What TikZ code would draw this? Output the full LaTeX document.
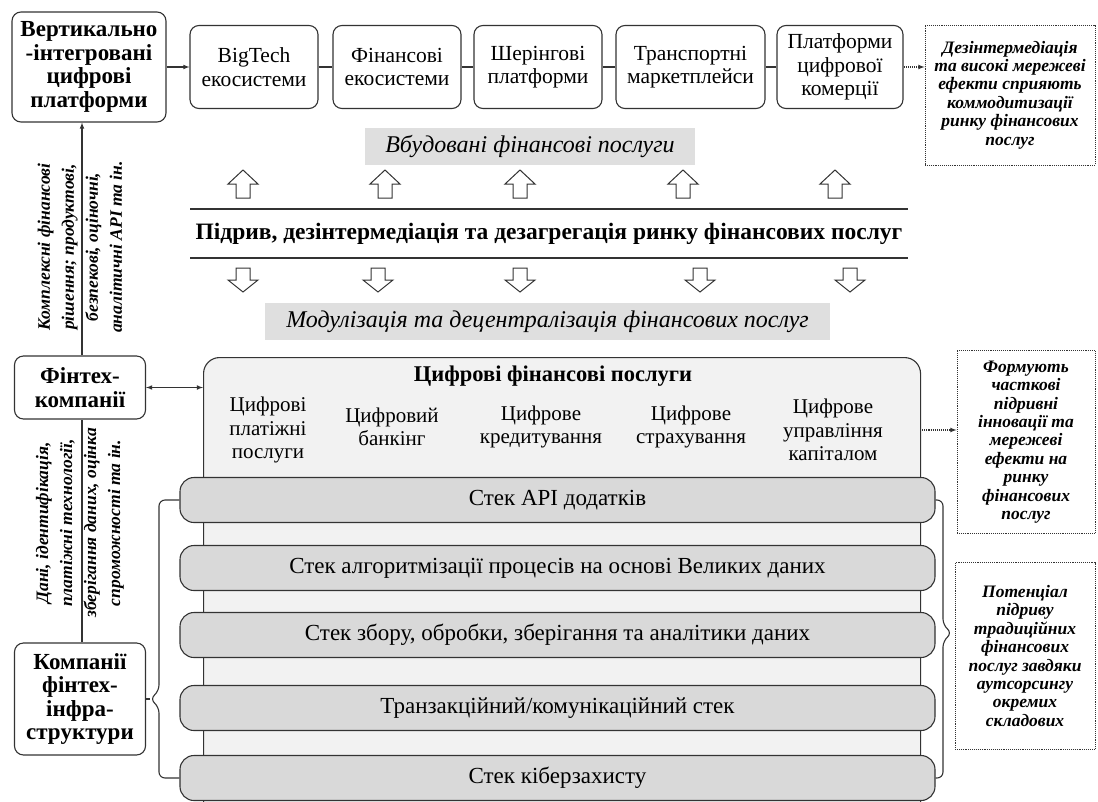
\documentclass[tikz,border=0pt]{standalone}
\usepackage{fontspec}
\setmainfont{Liberation Serif}
\usetikzlibrary{positioning}
\tikzset{
  pbox/.style={draw=black!80, line width=1.1pt, rounded corners=9pt, fill=white, align=center, inner sep=0pt, font=\fontsize{21.5}{23.5}\selectfont},
  hbox/.style={pbox, font=\bfseries\fontsize{23}{23.5}\selectfont},
  note/.style={draw=black!80, densely dotted, line width=0.9pt, align=center, inner sep=0pt, font=\bfseries\itshape\fontsize{17.5}{18.4}\selectfont},
  band/.style={fill=gray!25, inner sep=0pt, font=\itshape\fontsize{24}{26}\selectfont},
  stek/.style={draw=black!80, line width=1.1pt, rounded corners=14pt, fill=gray!30, minimum width=755pt, minimum height=45pt, font=\fontsize{23}{25}\selectfont},
  service/.style={align=center, font=\fontsize{21}{23.5}\selectfont},
  vlabel/.style={rotate=90, align=center, font=\bfseries\itshape\fontsize{17.5}{24}\selectfont},
  blockup/.style={draw=black!80, line width=1pt, fill=white},
  link/.style={draw=black!80, line width=1.1pt},
}
\begin{document}
\begin{tikzpicture}[x=1pt,y=-1pt,>=latex]
\useasboundingbox (0,0) rectangle (1098,801);
%platforms
\node[hbox, minimum width=154pt, minimum height=110pt] (vert) at (89,67) {Вертикально\\-інтегровані\\цифрові\\платформи};
\node[pbox, minimum width=128pt, minimum height=83pt] (bigtech) at (254,67) {BigTech\\екосистеми};
\node[pbox, minimum width=128pt, minimum height=83pt] (fineco) at (397,67) {Фінансові\\екосистеми};
\node[pbox, minimum width=128pt, minimum height=83pt] (sharing) at (538,67) {Шерінгові\\платформи};
\node[pbox, minimum width=149pt, minimum height=83pt] (transp) at (690.5,67) {Транспортні\\маркетплейси};
\node[pbox, minimum width=126pt, minimum height=83pt] (ecom) at (840,67) {Платформи\\цифрової\\комерції};
\node[note, minimum width=170pt, minimum height=140pt] (note1) at (1010,95) {Дезінтермедіація\\та високі мережеві\\ефекти сприяють\\коммодитизації\\ринку фінансових\\послуг};
\draw[link,->] (vert.east) -- (bigtech.west);
\draw[link] (bigtech.east) -- (fineco.west);
\draw[link] (fineco.east) -- (sharing.west);
\draw[link] (sharing.east) -- (transp.west);
\draw[link] (transp.east) -- (ecom.west);
\draw[link,densely dotted,->] (ecom.east) -- (ecom.east -| note1.west);
%middle band
\node[band, minimum width=330pt, minimum height=37pt] (embedded) at (530,146.5) {Вбудовані фінансові послуги};
\foreach \ax in {243,385,520,683,835}
    \draw[blockup] (\ax-7,198) -- (\ax-7,184) -- (\ax-15,184) -- (\ax,170) -- (\ax+15,184) -- (\ax+7,184) -- (\ax+7,198) -- cycle;
\draw[link] (190,209) -- (908,209);
\node[font=\bfseries\fontsize{23.5}{25}\selectfont] (disrupt) at (549,234) {Підрив, дезінтермедіація та дезагрегація ринку фінансових послуг};
\draw[link] (190,258) -- (908,258);
\foreach \ax in {243,378,520,700,850}
    \draw[blockup] (\ax-7,268) -- (\ax-7,280) -- (\ax-15,280) -- (\ax,292) -- (\ax+15,280) -- (\ax+7,280) -- (\ax+7,268) -- cycle;
\node[band, minimum width=565pt, minimum height=37pt] (modul) at (547.5,321.5) {Модулізація та децентралізація фінансових послуг};
%fintech
\coordinate (vx) at (82,0);
\node[hbox, minimum width=131pt, minimum height=63pt] (fintech) at (80,387.5) {Фінтех-\\компанії};
\node[hbox, minimum width=131pt, minimum height=112pt] (infra) at (80,699) {Компанії\\фінтех-\\інфра-\\структури};
\draw[link,->] (fintech.north -| vx) -- (vert.south -| vx);
\draw[link] (infra.north -| vx) -- (fintech.south -| vx);
\node[vlabel] (lab1) at (80,247) {Комплексні фінансові\\рішення; продуктові,\\безпекові, оціночні,\\аналітичні API та ін.};
\node[vlabel] (lab2) at (80,523) {Дані, ідентифікація,\\платіжні технології,\\зберігання даних, оцінка\\спроможності та ін.};
%digital services
\node[draw=black!80, line width=1.1pt, rounded corners=16pt, fill=gray!10, minimum width=717pt, minimum height=480pt, anchor=north west] (dfs) at (203,357) {};
\node[font=\bfseries\fontsize{22.5}{24}\selectfont] (dfstitle) at (553,376) {Цифрові фінансові послуги};
\node[service] (pay) at (268,430) {Цифрові\\платіжні\\послуги};
\node[service] (bank) at (392,427) {Цифровий\\банкінг};
\node[service] (credit) at (541,427) {Цифрове\\кредитування};
\node[service] (insur) at (691,427) {Цифрове\\страхування};
\node[service] (wealth) at (833,430) {Цифрове\\управління\\капіталом};
\draw[link,<->] (fintech.east) -- (fintech.east -| dfs.west);
\node[note, minimum width=138pt, minimum height=183pt] (note2) at (1026,442) {Формують\\часткові\\підривні\\інновації та\\мережеві\\ефекти на\\ринку\\фінансових\\послуг};
\coordinate (dfsR) at (920,430);
\draw[link,densely dotted,->] (dfsR) -- (dfsR -| note2.west);
%stacks
\node[stek] (bar1) at (557.5,500) {Стек API додатків};
\node[stek] (bar2) at (557.5,568) {Стек алгоритмізації процесів на основі Великих даних};
\node[stek] (bar3) at (557.5,635) {Стек збору, обробки, зберігання та аналітики даних};
\node[stek] (bar4) at (557.5,708) {Транзакційний/комунікаційний стек};
\node[stek] (bar5) at (557.5,778) {Стек кіберзахисту};
\node[note, minimum width=140pt, minimum height=187pt] (note3) at (1025,656) {Потенціал\\підриву\\традиційних\\фінансових\\послуг завдяки\\аутсорсингу\\окремих\\складових};
%braces
\coordinate (ltip) at (150,699);
\draw[link, rounded corners=6pt] (bar1.west) -- (159,500) -- (159,691) -- (ltip) -- (159,707) -- (159,778) -- (bar5.west);
\draw[link] (infra.east) -- (ltip);
\coordinate (rtip) at (952,633);
\draw[link, rounded corners=6pt] (bar1.east) -- (943,500) -- (943,625) -- (rtip) -- (943,641) -- (943,778) -- (bar5.east);
\end{tikzpicture}
\end{document}
